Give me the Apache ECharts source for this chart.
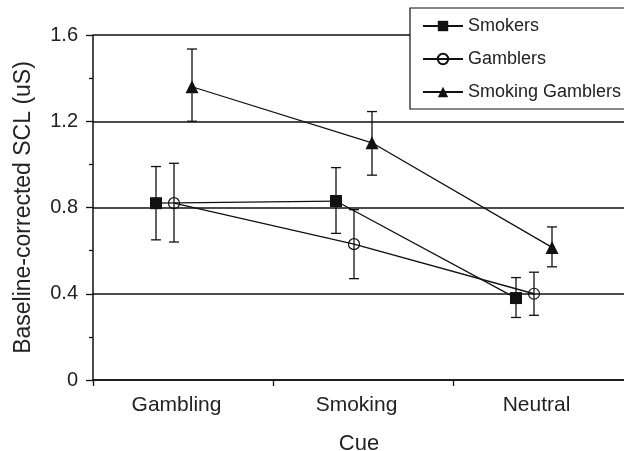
<!DOCTYPE html>
<html>
<head>
<meta charset="utf-8">
<script src="https://cdn.jsdelivr.net/npm/echarts@6/dist/echarts.min.js"></script>
<style>
  html, body { margin: 0; padding: 0; background: #fff; }
  #chart { width: 624px; height: 451px; }
</style>
</head>
<body>
<div id="chart"></div>
<script>
// ---- data ----
const categories = ['Gambling', 'Smoking', 'Neutral'];
const yTicks = [0, 0.4, 0.8, 1.2, 1.6];
const seriesNames = ['Smokers', 'Gamblers', 'Smoking Gamblers'];

const smokersMean = [0.82, 0.83, 0.38];
const smokersLow  = [0.65, 0.68, 0.29];
const smokersHigh = [0.99, 0.985, 0.475];

const gamblersMean = [0.82, 0.63, 0.40];
const gamblersLow  = [0.64, 0.47, 0.30];
const gamblersHigh = [1.005, 0.79, 0.50];

const sgMean = [1.36, 1.10, 0.615];
const sgLow  = [1.20, 0.95, 0.525];
const sgHigh = [1.535, 1.245, 0.71];

// horizontal offsets of each group within a category (layout, not data)
const groupOffset = [-0.15, -0.05, 0.05];

const means = [smokersMean, gamblersMean, sgMean];
const lows = [smokersLow, gamblersLow, sgLow];
const highs = [smokersHigh, gamblersHigh, sgHigh];
const symbols = ['rect', 'circle', 'triangle'];
const symbolSizes = [12, 11, 13];
const FONT = '"Liberation Sans", Arial, Helvetica, sans-serif';
const TXT = '#222';

const series = [];
means.forEach((m, s) => {
  const hollow = s === 1;
  series.push({
    name: seriesNames[s],
    type: 'line',
    xAxisIndex: 1,
    yAxisIndex: 0,
    data: m.map((v, i) => [i + groupOffset[s], v]),
    symbol: symbols[s],
    symbolSize: symbolSizes[s],
    showAllSymbol: true,
    lineStyle: { color: '#111', width: 1.3 },
    itemStyle: hollow
      ? { color: 'rgba(0,0,0,0)', borderColor: '#111', borderWidth: 1.2 }
      : { color: '#111', borderColor: '#111', borderWidth: 0 },
    z: 3,
    animation: false,
    silent: true
  });
  series.push({
    name: seriesNames[s] + ' error',
    type: 'custom',
    xAxisIndex: 1,
    yAxisIndex: 0,
    data: m.map((v, i) => [i + groupOffset[s], lows[s][i], highs[s][i]]),
    encode: { x: 0, y: [1, 2] },
    renderItem: function (params, api) {
      const x = api.value(0);
      const lo = api.coord([x, api.value(1)]);
      const hi = api.coord([x, api.value(2)]);
      const cap = 5;
      const st = { stroke: '#111', lineWidth: 1.3, fill: null };
      return {
        type: 'group',
        children: [
          { type: 'line', shape: { x1: lo[0], y1: lo[1], x2: hi[0], y2: hi[1] }, style: st },
          { type: 'line', shape: { x1: lo[0] - cap, y1: lo[1], x2: lo[0] + cap, y2: lo[1] }, style: st },
          { type: 'line', shape: { x1: hi[0] - cap, y1: hi[1], x2: hi[0] + cap, y2: hi[1] }, style: st }
        ]
      };
    },
    z: 2,
    animation: false,
    silent: true
  });
});

const chart = echarts.init(document.getElementById('chart'), null, { renderer: 'canvas' });
chart.setOption({
  animation: false,
  backgroundColor: '#fff',
  grid: { left: 93, top: 35, width: 540, height: 345, containLabel: false, outerBoundsMode: 'none' },
  legend: {
    data: seriesNames,
    orient: 'vertical',
    left: 410,
    top: 8,
    padding: [9, 30, 8, 12],
    itemWidth: 40,
    itemHeight: 13,
    itemGap: 15,
    backgroundColor: '#fff',
    borderColor: '#111',
    borderWidth: 1.2,
    borderRadius: 0,
    textStyle: { fontFamily: FONT, fontSize: 18, color: TXT },
    selectedMode: false,
    z: 10
  },
  xAxis: [
    {
      type: 'category',
      data: categories,
      boundaryGap: true,
      position: 'bottom',
      axisLine: { show: true, onZero: false, lineStyle: { color: '#111', width: 1.5 } },
      axisTick: { show: true, alignWithLabel: false, length: 6, lineStyle: { color: '#111', width: 1.3 } },
      axisLabel: { fontFamily: FONT, fontSize: 21, color: TXT, margin: 15, padding: [0, 13, 0, 0] },
      splitLine: { show: false },
      name: 'Cue',
      nameLocation: 'middle',
      nameGap: 53,
      nameTextStyle: { fontFamily: FONT, fontSize: 22, color: TXT, padding: [0, 8, 0, 0] }
    },
    {
      type: 'value',
      min: -0.5,
      max: 2.5,
      show: false
    }
  ],
  yAxis: [{
    type: 'value',
    min: yTicks[0],
    max: yTicks[yTicks.length - 1],
    interval: 0.4,
    axisLine: { show: true, onZero: false, lineStyle: { color: '#111', width: 1.5 } },
    axisTick: { show: true, length: 7, lineStyle: { color: '#111', width: 1.3 } },
    minorTick: { show: true, splitNumber: 2, length: 4, lineStyle: { color: '#111', width: 1.3 } },
    axisLabel: {
      fontFamily: FONT, fontSize: 20, color: TXT, margin: 15,
      formatter: function (v) { return yTicks.indexOf(Math.round(v * 10) / 10) >= 0 ? (v === 0 ? '0' : v.toFixed(1)) : ''; }
    },
    splitLine: { show: true, lineStyle: { color: '#111', width: 1.5 } },
    name: 'Baseline-corrected SCL (uS)',
    nameLocation: 'middle',
    nameGap: 58,
    nameTextStyle: { fontFamily: FONT, fontSize: 23, color: TXT }
  }],
  series: series
});
</script>
</body>
</html>
